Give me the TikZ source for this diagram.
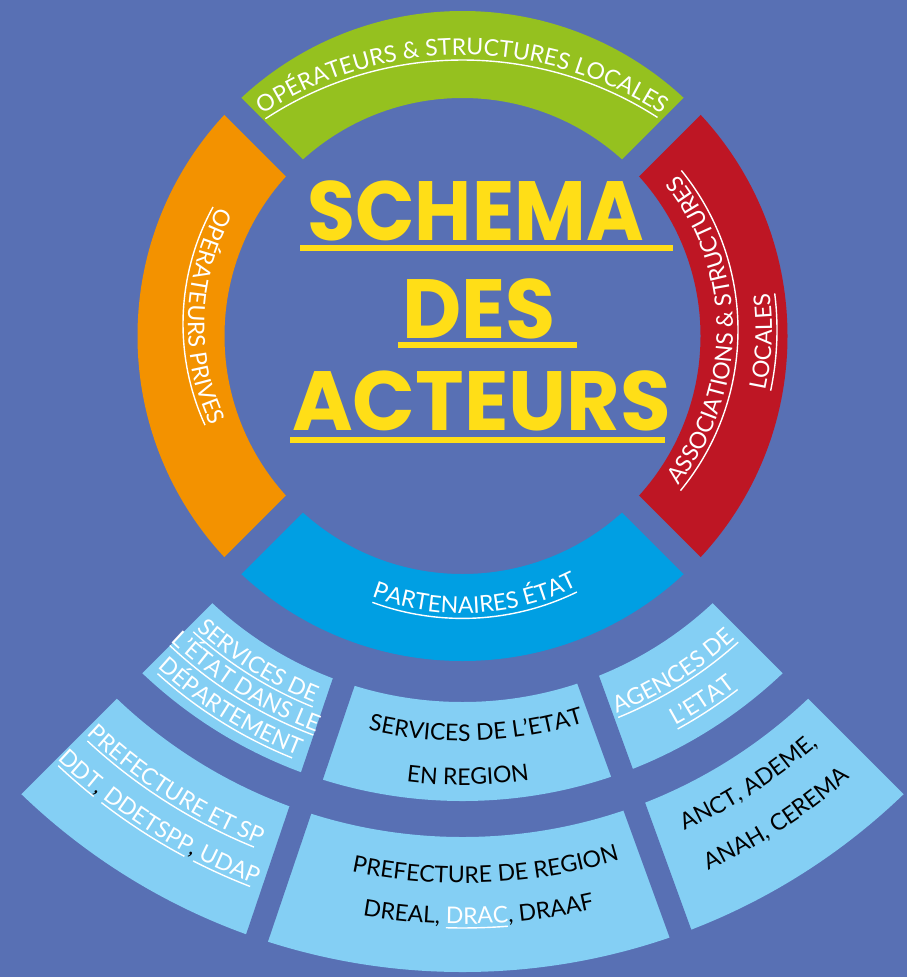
\documentclass[tikz,border=0pt]{standalone}
\usepackage{fontspec}
\usetikzlibrary{decorations.text,calc}
\newfontfamily\labf{Lato}
\newfontfamily\titf{Poppins}
\definecolor{bgc}{RGB}{88,112,180}
\definecolor{grn}{RGB}{149,193,31}
\definecolor{org}{RGB}{243,146,0}
\definecolor{redc}{RGB}{190,22,36}
\definecolor{blu}{RGB}{0,159,227}
\definecolor{lbl}{RGB}{132,207,244}
\definecolor{ylw}{RGB}{255,222,23}
\newcommand\LW{\labf\fontsize{23}{27}\selectfont\color{white}}
\newcommand\LB{\labf\fontsize{23}{27}\selectfont\color{black}}
\begin{document}
\begin{tikzpicture}[x=1pt,y=1pt,
  ul/.style={white, line width=1.4pt},
  gapline/.style={bgc, line width=24pt},
  midgap/.style={bgc, line width=23pt},
  ttl/.style={text=ylw, font=\titf\bfseries\fontsize{84}{90}\selectfont, inner sep=0pt, anchor=base}]
\useasboundingbox (0,0) rectangle (907,-977);
\fill[bgc] (0,0) rectangle (907,-977);
\coordinate (C) at (462.5,-336);
% ring 1 segments
\begin{scope}
\clip (C) -- ++(-700,700) -- ++(1400,0) -- cycle;
\fill[grn, even odd rule] (C) circle[radius=325] (C) circle[radius=238];
\end{scope}
\begin{scope}
\clip (C) -- ++(700,700) -- ++(0,-1400) -- cycle;
\fill[redc, even odd rule] (C) circle[radius=325] (C) circle[radius=238];
\end{scope}
\begin{scope}
\clip (C) -- ++(-700,700) -- ++(0,-1400) -- cycle;
\fill[org, even odd rule] (C) circle[radius=325] (C) circle[radius=238];
\end{scope}
\begin{scope}
\clip (C) -- ++(700,-700) -- ++(-1400,0) -- cycle;
\fill[blu, even odd rule] (C) circle[radius=325] (C) circle[radius=238];
\fill[lbl, even odd rule] (C) circle[radius=636] (C) circle[radius=501] (C) circle[radius=465] (C) circle[radius=366];
\end{scope}
% gaps
\draw[gapline] ($(C)+(-720,720)$) -- ($(C)+(720,-720)$);
\draw[gapline] ($(C)+(-720,-720)$) -- ($(C)+(720,720)$);
\coordinate (L1) at (349.9,-663.8); \coordinate (L2) at (236,-1000);
\coordinate (R1) at (581.4,-661.2); \coordinate (R2) at (702.8,-995);
\draw[midgap] (L1) -- (L2);
\draw[midgap] (R1) -- (R2);
% title
\node[ttl] (t1) at (475.5,-240) {\scalebox{0.93}[1]{SCHEMA}};
\node[ttl] (t2) at (479,-338) {\scalebox{0.97}[1]{DES}};
\node[ttl] (t3) at (481.5,-430) {\scalebox{0.98}[1]{ACTEURS}};
\fill[ylw] (300,-245) rectangle (673,-251);
\fill[ylw] (398,-342) rectangle (577,-348);
\fill[ylw] (290,-437) rectangle (665,-443);
% ring labels
\coordinate (G0) at (462.5,-420);
\path[decorate, decoration={text along path, text align=center, text={|\LW|OPÉRATEURS {\&} STRUCTURES LOCALES}}] ($(G0)+(145:365)$) arc[start angle=145, end angle=35, radius=365];
\draw[ul] ($(G0)+(123.2:360)$) arc[start angle=123.2, end angle=57.2, radius=360];
\coordinate (B0) at (462.5,-357.4);
\path[decorate, decoration={text along path, text align=center, text={|\LW|PARTENAIRES ÉTAT}}] ($(B0)+(203:256)$) arc[start angle=203, end angle=343, radius=256];
\draw[ul] ($(B0)+(249.8:261)$) arc[start angle=249.8, end angle=296, radius=261];
\coordinate (O0) at (426,-324);
\path[decorate, decoration={text along path, text align=center, text={|\LW|OPÉRATEURS PRIVES}}] ($(O0)+(118:238)$) arc[start angle=118, end angle=238, radius=238];
\draw[ul] ($(O0)+(151.2:243)$) arc[start angle=151.2, end angle=204.6, radius=243];
\coordinate (R0) at (485,-330);
\path[decorate, decoration={text along path, text align=center, text={|\LW|ASSOCIATIONS {\&} STRUCTURES}}] ($(R0)+(-60:248)$) arc[start angle=-60, end angle=60, radius=248];
\draw[ul] ($(R0)+(-39.4:253)$) arc[start angle=-39.4, end angle=39.1, radius=253];
\path[decorate, decoration={text along path, text align=center, text={|\LW|LOCALES}}] ($(R0)+(-32.4:287)$) arc[start angle=-32.4, end angle=27.6, radius=287];
\draw[ul] ($(R0)+(-12:292)$) arc[start angle=-12, end angle=7.2, radius=292];
% ring 2 left box
\path[decorate, decoration={text along path, text align=center, text={|\LW|SERVICES DE}}] ($(C)+(217.85:396)$) arc[start angle=217.85, end angle=257.85, radius=396];
\draw[ul] ($(C)+(227.7:400)$) arc[start angle=227.7, end angle=248, radius=400];
\path[decorate, decoration={text along path, text align=center, text={|\LW|L’ÉTAT DANS LE}}] ($(C)+(218:422)$) arc[start angle=218, end angle=258, radius=422];
\draw[ul] ($(C)+(226.6:426)$) arc[start angle=226.6, end angle=249.5, radius=426];
\path[decorate, decoration={text along path, text align=center, text={|\LW|DÉPARTEMENT}}] ($(C)+(218:451)$) arc[start angle=218, end angle=258, radius=451];
\draw[ul] ($(C)+(227.9:455)$) arc[start angle=227.9, end angle=248, radius=455];
% ring 2 middle box
\path[decorate, decoration={text along path, text align=center, text={|\LB|SERVICES DE L’ETAT}}] ($(C)+(250:405)$) arc[start angle=250, end angle=294, radius=405];
\path[decorate, decoration={text along path, text align=center, text={|\LB|EN REGION}}] ($(C)+(255.7:449)$) arc[start angle=255.7, end angle=285.7, radius=449];
% ring 2 right box
\path[decorate, decoration={text along path, text align=center, text={|\LW|AGENCES DE}}] ($(C)+(282.1:408)$) arc[start angle=282.1, end angle=322.1, radius=408];
\draw[ul] ($(C)+(292.2:412)$) arc[start angle=292.2, end angle=312, radius=412];
\path[decorate, decoration={text along path, text align=center, text={|\LW|L’ETAT}}] ($(C)+(290.3:444)$) arc[start angle=290.3, end angle=316.3, radius=444];
\draw[ul] ($(C)+(298.7:448)$) arc[start angle=298.7, end angle=307.9, radius=448];
% ring 3 left box
\path[decorate, decoration={text along path, text align=center, text={|\LW|PREFECTURE ET SP}}] ($(C)+(217.5:548)$) arc[start angle=217.5, end angle=257.5, radius=548];
\draw[ul] ($(C)+(227.2:552)$) arc[start angle=227.2, end angle=247.8, radius=552];
\path[decorate, decoration={text along path, text align=center, text={|\LW|DDT|\LB|, |\LW|DDETSPP|\LB|, |\LW|UDAP}}] ($(C)+(215.8:586)$) arc[start angle=215.8, end angle=259.8, radius=586];
\draw[ul] ($(C)+(226.75:590)$) arc[start angle=226.75, end angle=231.3, radius=590];
\draw[ul] ($(C)+(232.26:590)$) arc[start angle=232.26, end angle=241.88, radius=590];
\draw[ul] ($(C)+(242.83:590)$) arc[start angle=242.83, end angle=248.9, radius=590];
% ring 3 middle box
\path[decorate, decoration={text along path, text align=center, text={|\LB|PREFECTURE DE REGION}}] ($(C)+(250:547)$) arc[start angle=250, end angle=295, radius=547];
\path[decorate, decoration={text along path, text align=center, text={|\LB|DREAL, |\LW|DRAC|\LB|, DRAAF}}] ($(C)+(250.1:588)$) arc[start angle=250.1, end angle=293.1, radius=588];
\draw[ul] ($(C)+(268.4:592)$) arc[start angle=268.4, end angle=274.4, radius=592];
% ring 3 right box
\path[decorate, decoration={text along path, text align=center, text={|\LB|ANCT, ADEME,}}] ($(C)+(285.1:542)$) arc[start angle=285.1, end angle=320.1, radius=542];
\path[decorate, decoration={text along path, text align=center, text={|\LB|ANAH, CEREMA}}] ($(C)+(285:588)$) arc[start angle=285, end angle=321, radius=588];
\end{tikzpicture}
\end{document}
